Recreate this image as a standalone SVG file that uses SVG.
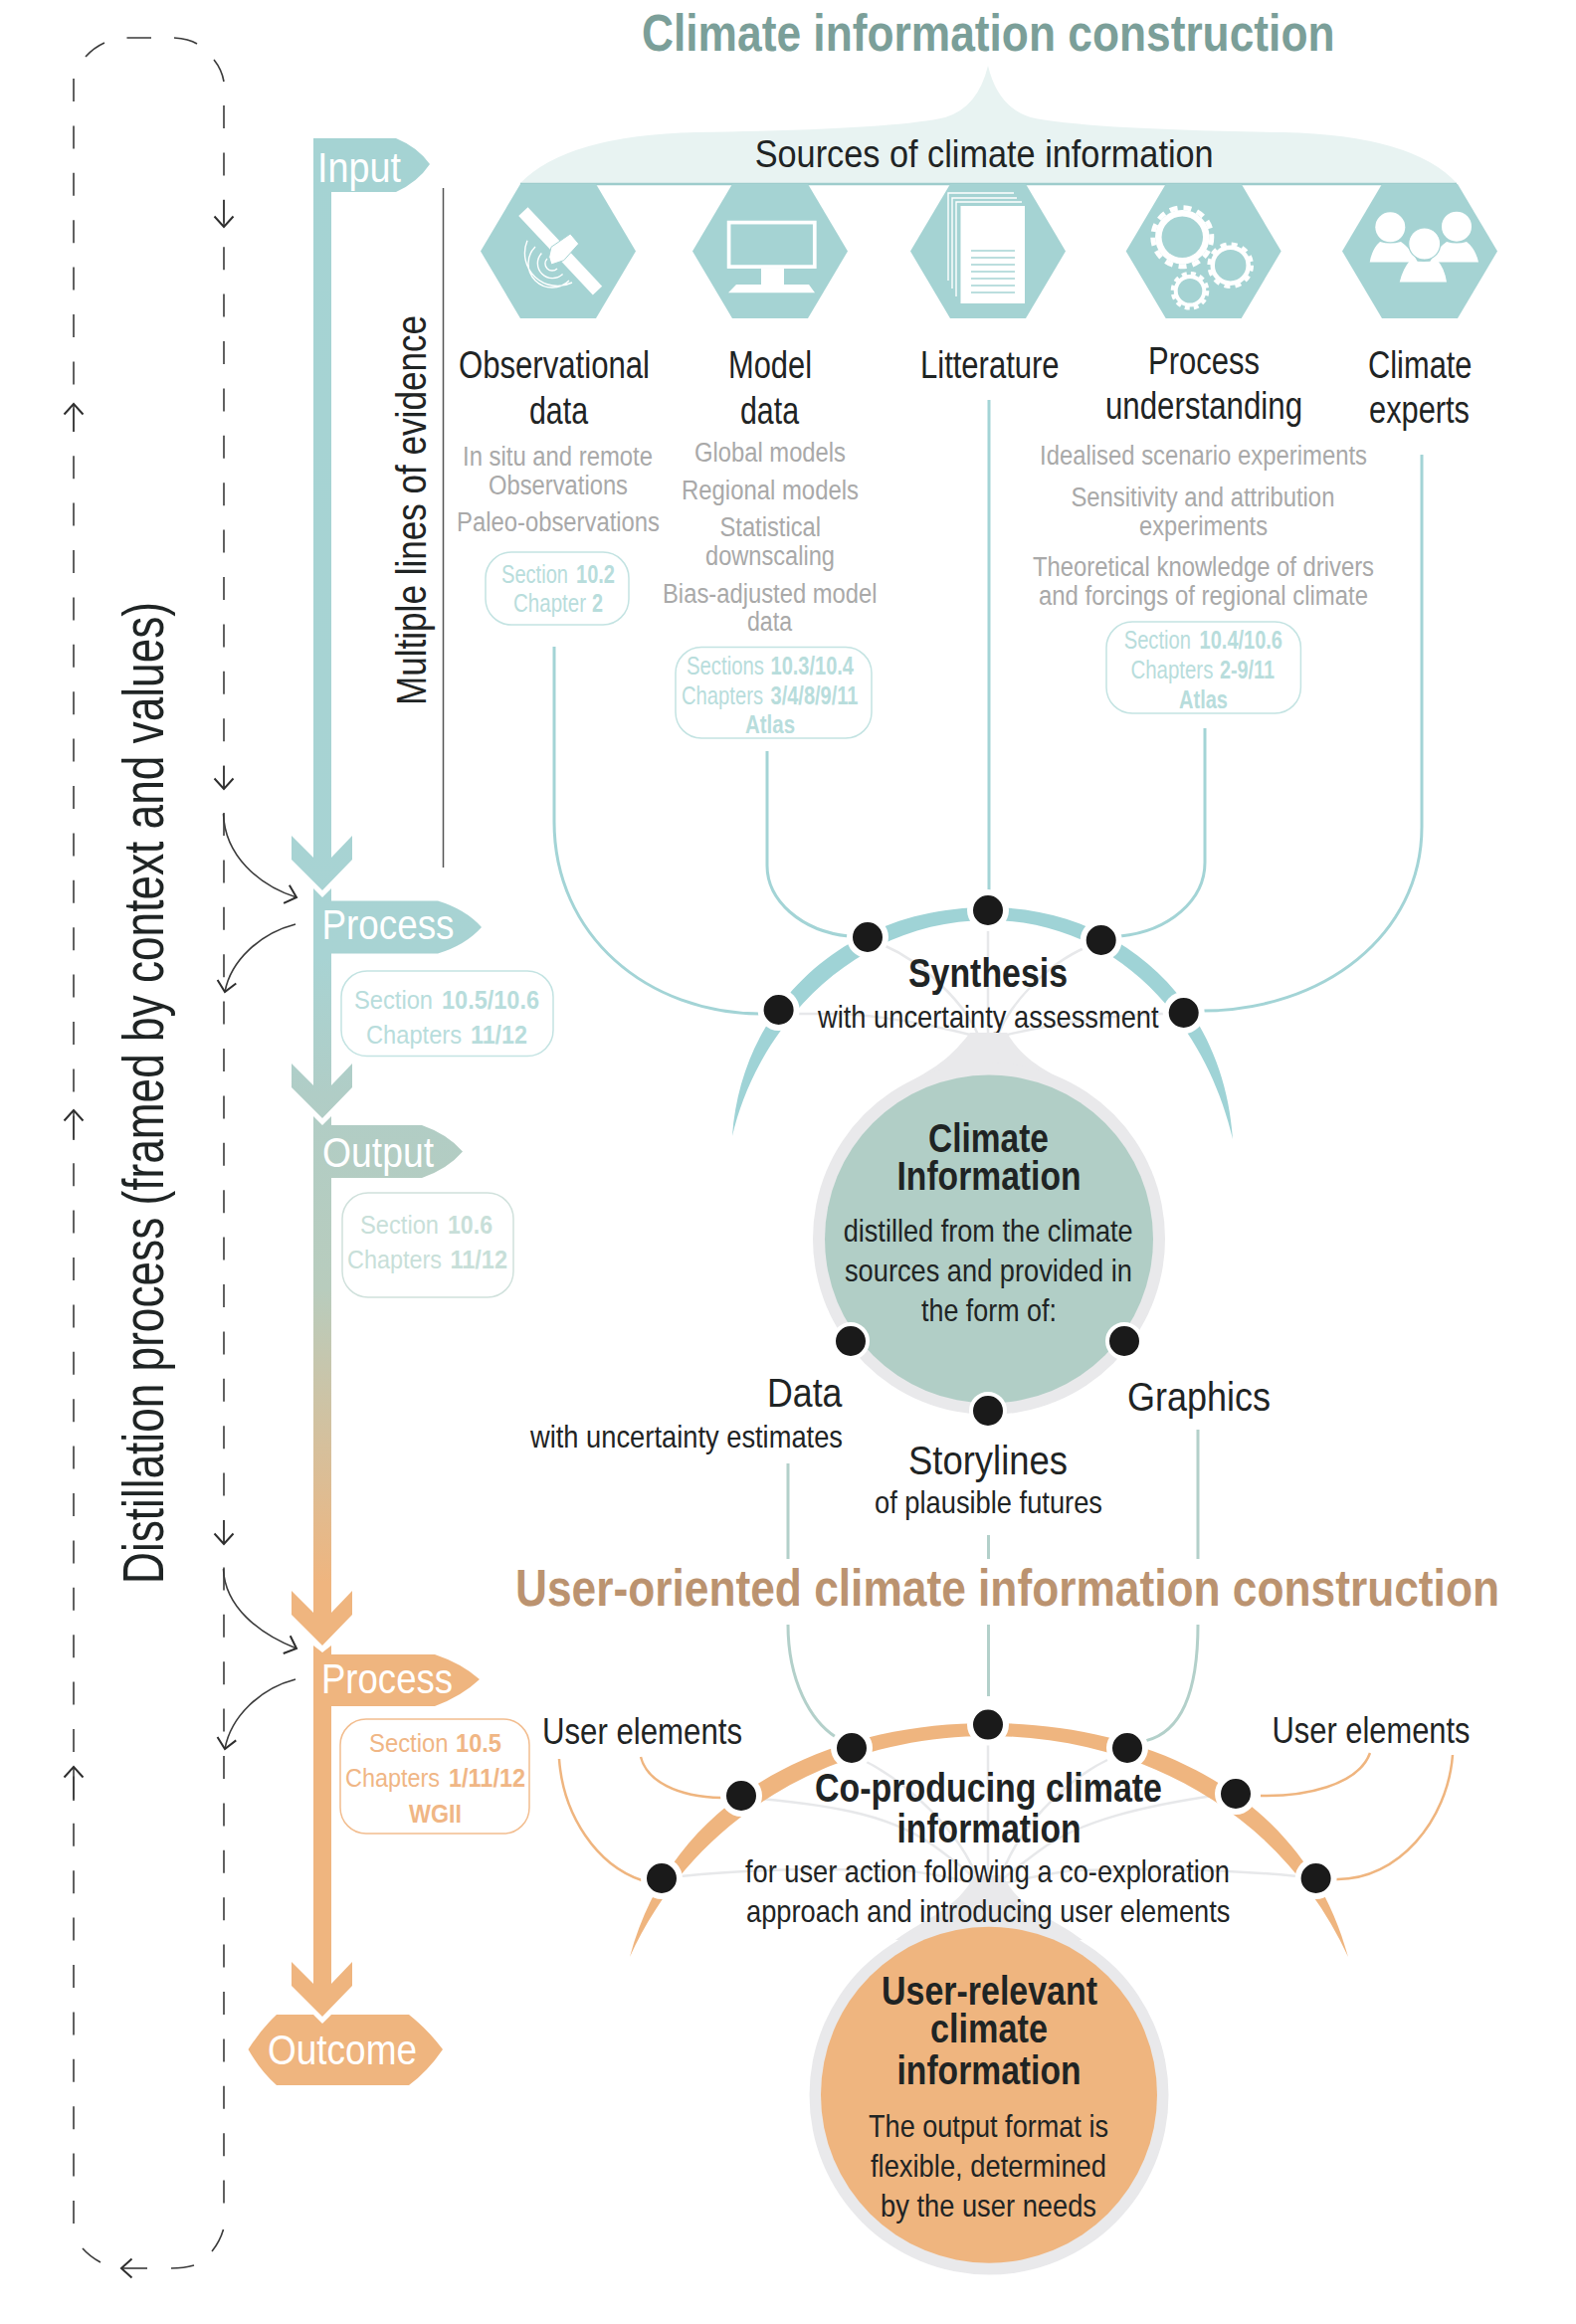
<svg xmlns="http://www.w3.org/2000/svg" width="1584" height="2336" viewBox="0 0 1584 2336">
<style>
text{font-family:"Liberation Sans",Arial,sans-serif;fill:#1f2424}
.b{font-weight:700}
.t1{font-size:52px;font-weight:700;fill:#7b9f99}
.t2{font-size:52px;font-weight:700;fill:#bb9370}
.l{font-size:38px}
.m{font-size:32px}
.g{font-size:27px;fill:#a9a9a9}
.f{font-size:43px;fill:#fff}
.h{font-size:40px;font-weight:700}
.s{font-size:26px}
.c1 text,.c1 tspan{fill:#b8dddc}
.c2 text,.c2 tspan{fill:#c8dfd9}
.c3 text,.c3 tspan{fill:#f0b685}
.box{fill:#fff;stroke-width:1.5}
.teal{fill:none;stroke:#a3d4d6;stroke-width:3}
.sage{fill:none;stroke:#b3d0ca;stroke-width:3}
.or{fill:none;stroke:#efb57f;stroke-width:2.5}
.pale{fill:none;stroke:#e7e8ea;stroke-width:2.5}
.dash{fill:none;stroke:#3a3a3a;stroke-width:1.6}
.dot{fill:#1a1a1a;stroke:#fff;stroke-width:4}
.hex{fill:#a5d3d3}
.w{fill:#fff}
.wl{fill:none;stroke:#fff}
</style>
<defs>
<linearGradient id="stem" gradientUnits="userSpaceOnUse" x1="0" y1="139" x2="0" y2="2100">
<stop offset="0" stop-color="#a5d3d3"/>
<stop offset="0.42" stop-color="#a8d3d3"/>
<stop offset="0.49" stop-color="#b0cdc6"/>
<stop offset="0.59" stop-color="#b8ccbd"/>
<stop offset="0.74" stop-color="#efb57f"/>
<stop offset="1" stop-color="#efb57f"/>
</linearGradient>
<marker id="v" markerUnits="userSpaceOnUse" viewBox="-14 -11 16 22" refX="0" refY="0" markerWidth="16" markerHeight="22" orient="auto">
<path d="M-10.5,-9.5 L0,0 L-10.5,9.5" fill="none" stroke="#2e2e2e" stroke-width="2"/>
</marker>
<polygon id="hx" points="-78,0 -38,-67.5 38,-67.5 78,0 38,67.5 -38,67.5"/>
</defs>

<g id="distillation-loop">
<path class="dash" d="M74,79 V2238" stroke-dasharray="23 24.4"/>
<path class="dash" d="M225,106 V2219" stroke-dasharray="23 24.4"/>
<path class="dash" d="M86,57 Q94,48 105,43 M127.5,38 H152 M175,38 Q190,39 198,44 M215,60 Q223,70 225,82"/>
<path class="dash" d="M83,2260 Q90,2268 101,2274 M172,2280 Q185,2280 195,2277 M213,2263 Q221,2253 224.5,2241"/>
<path class="dash" d="M148,2280 H122" marker-end="url(#v)"/>
<path class="dash" d="M74,434 V406" marker-end="url(#v)"/>
<path class="dash" d="M74,1146 V1116" marker-end="url(#v)"/>
<path class="dash" d="M74,1810 V1776" marker-end="url(#v)"/>
<path class="dash" d="M225,201 V228" marker-end="url(#v)"/>
<path class="dash" d="M225,770 V793" marker-end="url(#v)"/>
<path class="dash" d="M225,1528 V1552" marker-end="url(#v)"/>
<path class="dash" d="M224.5,818 C226,860 260,890 298,902" marker-end="url(#v)"/>
<path class="dash" d="M297,929 C262,938 232,965 226,997" marker-end="url(#v)"/>
<path class="dash" d="M224.5,1577 C226,1615 260,1642 298,1657" marker-end="url(#v)"/>
<path class="dash" d="M297,1688 C262,1697 232,1725 226,1758" marker-end="url(#v)"/>
</g>
<text id="distillation-label" transform="rotate(-90 164 1592)" x="164" y="1592" font-size="57" textLength="987" lengthAdjust="spacingAndGlyphs">Distillation process (framed by context and values)</text>

<g id="stem-flow" fill="url(#stem)">
<path d="M315,139 H398 Q420,148 432,165 Q420,183 398,193 H333 V862 H315 Z"/>
<polygon points="293,840 315,862 333,862 354,840 354,864 324,895 293,864"/>
<path d="M315,893 L324,902 L333,893 V905.5 H440 Q468,914 484,932 Q468,950 440,958.5 H333 V1092 H315 Z"/>
<polygon points="293,1069 315,1091 333,1091 354,1069 354,1093 324,1124 293,1093"/>
<path d="M315,1122 L324,1131 L333,1122 V1131 H424 Q450,1140 465,1157.5 Q450,1175 424,1184 H333 V1622 H315 Z"/>
<polygon points="293,1599 315,1621 333,1621 354,1599 354,1623 324,1654 293,1623"/>
<path d="M315,1654 L324,1661 L333,1654 V1663 H437 Q464,1672 482,1688 Q464,1705 437,1715 H333 V1994 H315 Z"/>
<polygon points="293,1972 315,1994 333,1994 354,1972 354,1996 324,2027 293,1996"/>
<path d="M278,2025 H315 L324,2034 L333,2025 H411 Q430,2040 445,2060 Q430,2082 411,2096 H278 Q262,2082 249.5,2060 Q262,2040 278,2025 Z"/>
</g>
<text class="f" x="319" y="183" textLength="84" lengthAdjust="spacingAndGlyphs">Input</text>
<text class="f" x="323.5" y="944" textLength="133" lengthAdjust="spacingAndGlyphs">Process</text>
<text class="f" x="324" y="1173" textLength="112" lengthAdjust="spacingAndGlyphs">Output</text>
<text class="f" x="323" y="1702" textLength="132" lengthAdjust="spacingAndGlyphs">Process</text>
<text class="f" x="269" y="2075" textLength="150" lengthAdjust="spacingAndGlyphs">Outcome</text>

<path d="M445.5,189 V872" fill="none" stroke="#555" stroke-width="1.5"/>
<text id="evidence-label" transform="rotate(-90 427.5 709)" x="427.5" y="709" font-size="42" textLength="392" lengthAdjust="spacingAndGlyphs">Multiple lines of evidence</text>

<text class="t1" x="645" y="51" textLength="696.5" lengthAdjust="spacingAndGlyphs">Climate information construction</text>
<g id="sources-header">
<path d="M523,184 Q570,136 700,133 Q900,130 950,118 Q983,108 993,66 Q1003,108 1036,118 Q1090,130 1290,133 Q1420,136 1464,184 Z" fill="#e8f3f2"/>
<path d="M523,185 H1464" stroke="#9dcccc" stroke-width="2.5"/>
<text x="758.7" y="168" font-size="39" textLength="461" lengthAdjust="spacingAndGlyphs">Sources of climate information</text>
</g>

<g id="connectors">
<path class="teal" d="M557,650 V826 C557,940 650,1019 766,1019"/>
<path class="teal" d="M771,755 V870 C771,905 805,936 853,941"/>
<path class="teal" d="M994,402 V898"/>
<path class="teal" d="M1211,732 V867 C1211,905 1175,936 1126,941"/>
<path class="teal" d="M1429,457 V831 C1429,940 1330,1016 1208,1016"/>
<path class="pale" d="M800,1019 H846 C900,1022 955,1035 975,1040 M888,950 C930,968 970,1010 983,1040 M993,930 V1040 M1092,952 C1050,970 1015,1010 1003,1040 M1172,1019 H1160 C1090,1022 1035,1035 1012,1040"/>
<path class="sage" d="M792,1471 V1567 M993.5,1543 V1567 M1204,1437 V1567"/>
<path class="sage" d="M792,1633 C792,1690 815,1730 840,1746 M993.5,1633 V1705 M1204,1633 C1204,1695 1190,1740 1152,1749.6"/>
<path class="or" d="M562,1768 C566,1825 600,1875 645,1890 M644,1766 C650,1790 680,1806 725,1807 M1377,1762 C1365,1795 1310,1806 1267,1805 M1460,1764 C1455,1830 1405,1890 1343,1889"/>
<path class="pale" d="M684,1886 C800,1875 860,1880 910,1880 C945,1885 970,1890 985,1895 M764,1808 C840,1815 900,1825 945,1860 C965,1875 978,1885 985,1895 M867,1769 C910,1790 965,1840 983,1890 M993,1750 V1895 M1113,1769 C1070,1790 1020,1840 1005,1890 M1226,1804 C1150,1815 1085,1830 1045,1860 C1025,1875 1010,1885 1003,1895 M1304,1886 C1190,1875 1120,1880 1078,1880 C1045,1885 1020,1890 1003,1895"/>
</g>

<g id="hex-observational">
<use href="#hx" class="hex" x="561" y="252.5"/>
<g transform="translate(563.2,252.3) rotate(46.8)">
<rect x="-54.5" y="-6.4" width="109" height="12.8" class="w"/>
</g>
<path class="w" stroke="#a5d3d3" stroke-width="1" d="M554,248.3 L573.3,235 L581.7,245 L566.7,261.7 L554,266 L551.7,258.3 Z"/>
<path class="wl" stroke-width="1.4" d="M550,260 A7,7 0 0 0 560,270 M544.4,254.4 A15,15 0 0 0 565.6,275.6 M538,248 A24,24 0 0 0 572,282 M530,241.7 A33,33 0 0 0 575,284"/>
</g>
<g id="hex-model">
<use href="#hx" class="hex" x="774" y="252.5"/>
<rect x="732.6" y="223.6" width="86.2" height="44.5" class="wl" stroke-width="3.7"/>
<path class="w" d="M765,270 H788 V286 H813 L819,294.3 H732 L740,286 H765 Z"/>
</g>
<g id="hex-literature">
<use href="#hx" class="hex" x="993" y="252.5"/>
<path class="wl" stroke-width="1.4" d="M953,282 V194 H1019 M957,290 V199 H1022 M961,298 V203 H1027"/>
<rect x="965.5" y="207" width="64.5" height="98" class="w"/>
<path d="M976,252 H1020 M976,259 H1020 M976,266 H1020 M976,273 H1020 M976,280 H1020 M976,287 H1020 M976,294 H1020" stroke="#a5d3d3" stroke-width="1.4"/>
</g>
<g id="hex-process">
<use href="#hx" class="hex" x="1209.7" y="252.5"/>
<circle cx="1188.3" cy="238.3" r="24" class="wl" stroke-width="6.5"/>
<circle cx="1188.3" cy="238.3" r="29.5" class="wl" stroke-width="5" stroke-dasharray="8 6"/>
<circle cx="1236.7" cy="266.7" r="18" class="wl" stroke-width="4.5"/>
<circle cx="1236.7" cy="266.7" r="21.5" class="wl" stroke-width="3.6" stroke-dasharray="6 5.3"/>
<circle cx="1196" cy="292.3" r="14.3" class="wl" stroke-width="4"/>
<circle cx="1196" cy="292.3" r="17.5" class="wl" stroke-width="3.6" stroke-dasharray="5 4.2"/>
</g>
<g id="hex-experts">
<use href="#hx" class="hex" x="1427" y="252.5"/>
<circle cx="1397.3" cy="228.3" r="15" class="w"/>
<circle cx="1464" cy="227.7" r="15" class="w"/>
<path class="w" d="M1376.7,263.5 Q1379,250 1387,243 Q1397,246 1408,243 Q1418,250 1425,263.5 Z"/>
<path class="w" d="M1437,263.5 Q1444,250 1454,243 Q1464,246 1474,243 Q1483,250 1486,263.5 Z"/>
<path class="w" d="M1406.7,283.5 Q1410,270 1417,262 Q1431,264 1445,262 Q1452,270 1454,283.5 Z"/>
<circle cx="1431.7" cy="245" r="16" class="w" stroke="#a5d3d3" stroke-width="1.2"/>
</g>

<g id="label-observational">
<text class="l" x="461" y="380" textLength="192" lengthAdjust="spacingAndGlyphs">Observational</text>
<text class="l" x="532" y="426" textLength="59" lengthAdjust="spacingAndGlyphs">data</text>
<text class="g" x="465" y="468" textLength="191" lengthAdjust="spacingAndGlyphs">In situ and remote</text>
<text class="g" x="491" y="497" textLength="140" lengthAdjust="spacingAndGlyphs">Observations</text>
<text class="g" x="459" y="534" textLength="204" lengthAdjust="spacingAndGlyphs">Paleo-observations</text>
</g>
<g id="label-model">
<text class="l" x="732" y="380" textLength="84" lengthAdjust="spacingAndGlyphs">Model</text>
<text class="l" x="744" y="426" textLength="59" lengthAdjust="spacingAndGlyphs">data</text>
<text class="g" x="698" y="464" textLength="152" lengthAdjust="spacingAndGlyphs">Global models</text>
<text class="g" x="685" y="501.5" textLength="178" lengthAdjust="spacingAndGlyphs">Regional models</text>
<text class="g" x="723.5" y="539" textLength="101.5" lengthAdjust="spacingAndGlyphs">Statistical</text>
<text class="g" x="709" y="568" textLength="130" lengthAdjust="spacingAndGlyphs">downscaling</text>
<text class="g" x="666" y="605.6" textLength="215.5" lengthAdjust="spacingAndGlyphs">Bias-adjusted model</text>
<text class="g" x="751" y="634" textLength="45" lengthAdjust="spacingAndGlyphs">data</text>
</g>
<text id="label-literature" class="l" x="925" y="380" textLength="139.6" lengthAdjust="spacingAndGlyphs">Litterature</text>
<g id="label-process">
<text class="l" x="1154" y="376" textLength="112" lengthAdjust="spacingAndGlyphs">Process</text>
<text class="l" x="1111" y="421" textLength="198" lengthAdjust="spacingAndGlyphs">understanding</text>
<text class="g" x="1045" y="467" textLength="329" lengthAdjust="spacingAndGlyphs">Idealised scenario experiments</text>
<text class="g" x="1076.4" y="508.7" textLength="265" lengthAdjust="spacingAndGlyphs">Sensitivity and attribution</text>
<text class="g" x="1145" y="538" textLength="129" lengthAdjust="spacingAndGlyphs">experiments</text>
<text class="g" x="1038" y="579" textLength="343" lengthAdjust="spacingAndGlyphs">Theoretical knowledge of drivers</text>
<text class="g" x="1044" y="608" textLength="331" lengthAdjust="spacingAndGlyphs">and forcings of regional climate</text>
</g>
<g id="label-experts">
<text class="l" x="1375" y="380" textLength="104.5" lengthAdjust="spacingAndGlyphs">Climate</text>
<text class="l" x="1376" y="425" textLength="101" lengthAdjust="spacingAndGlyphs">experts</text>
</g>

<g id="ref-obs" class="c1">
<rect class="box" x="488" y="555" width="144" height="73" rx="26" stroke="#c3e3e2"/>
<text class="s" y="586"><tspan x="504" textLength="67" lengthAdjust="spacingAndGlyphs">Section</tspan> <tspan class="b" x="579" textLength="39" lengthAdjust="spacingAndGlyphs">10.2</tspan></text>
<text class="s" y="615"><tspan x="516" textLength="73" lengthAdjust="spacingAndGlyphs">Chapter</tspan> <tspan class="b" x="595" textLength="11" lengthAdjust="spacingAndGlyphs">2</tspan></text>
</g>
<g id="ref-model" class="c1">
<rect class="box" x="679" y="650.5" width="197" height="91.5" rx="26" stroke="#c3e3e2"/>
<text class="s" y="677.5"><tspan x="690" textLength="78" lengthAdjust="spacingAndGlyphs">Sections</tspan> <tspan class="b" x="774.5" textLength="83.5" lengthAdjust="spacingAndGlyphs">10.3/10.4</tspan></text>
<text class="s" y="707.6"><tspan x="685" textLength="82" lengthAdjust="spacingAndGlyphs">Chapters</tspan> <tspan class="b" x="774.5" textLength="88" lengthAdjust="spacingAndGlyphs">3/4/8/9/11</tspan></text>
<text class="s b" x="749" y="737" textLength="50" lengthAdjust="spacingAndGlyphs">Atlas</text>
</g>
<g id="ref-process" class="c1">
<rect class="box" x="1112" y="625" width="195.4" height="92" rx="26" stroke="#c3e3e2"/>
<text class="s" y="651.5"><tspan x="1129.7" textLength="67.3" lengthAdjust="spacingAndGlyphs">Section</tspan> <tspan class="b" x="1205.6" textLength="83.4" lengthAdjust="spacingAndGlyphs">10.4/10.6</tspan></text>
<text class="s" y="682"><tspan x="1136.4" textLength="83" lengthAdjust="spacingAndGlyphs">Chapters</tspan> <tspan class="b" x="1226" textLength="55" lengthAdjust="spacingAndGlyphs">2-9/11</tspan></text>
<text class="s b" x="1185" y="712" textLength="49" lengthAdjust="spacingAndGlyphs">Atlas</text>
</g>
<g id="ref-process1" class="c1">
<rect class="box" x="343" y="976" width="213" height="85.6" rx="26" stroke="#c3e3e2"/>
<text class="s" y="1013.7"><tspan x="356" textLength="79" lengthAdjust="spacingAndGlyphs">Section</tspan> <tspan class="b" x="444" textLength="98" lengthAdjust="spacingAndGlyphs">10.5/10.6</tspan></text>
<text class="s" y="1049"><tspan x="368" textLength="96" lengthAdjust="spacingAndGlyphs">Chapters</tspan> <tspan class="b" x="473" textLength="57" lengthAdjust="spacingAndGlyphs">11/12</tspan></text>
</g>
<g id="ref-output" class="c2">
<rect class="box" x="344" y="1199" width="172" height="105" rx="26" stroke="#d0e1dc"/>
<text class="s" y="1240"><tspan x="362" textLength="79" lengthAdjust="spacingAndGlyphs">Section</tspan> <tspan class="b" x="450" textLength="45" lengthAdjust="spacingAndGlyphs">10.6</tspan></text>
<text class="s" y="1275"><tspan x="349" textLength="95" lengthAdjust="spacingAndGlyphs">Chapters</tspan> <tspan class="b" x="452.5" textLength="57.5" lengthAdjust="spacingAndGlyphs">11/12</tspan></text>
</g>
<g id="ref-process2" class="c3">
<rect class="box" x="342" y="1728" width="190" height="115" rx="26" stroke="#f2bd8f"/>
<text class="s" y="1761"><tspan x="371" textLength="79.5" lengthAdjust="spacingAndGlyphs">Section</tspan> <tspan class="b" x="458" textLength="46" lengthAdjust="spacingAndGlyphs">10.5</tspan></text>
<text class="s" y="1796"><tspan x="347" textLength="95" lengthAdjust="spacingAndGlyphs">Chapters</tspan> <tspan class="b" x="451" textLength="77" lengthAdjust="spacingAndGlyphs">1/11/12</tspan></text>
<text class="s b" x="411" y="1832" textLength="53" lengthAdjust="spacingAndGlyphs">WGII</text>
</g>

<g id="synthesis">
<path d="M736,1142 C745,1010 850,912 993,912 C1130,912 1230,1010 1239,1145 C1212,1030 1125,925 993,925 C860,925 762,1030 736,1142 Z" fill="#9fd3d6"/>
<circle cx="782.6" cy="1015" r="21" class="w"/><circle cx="872" cy="942" r="21" class="w"/><circle cx="993" cy="915" r="21" class="w"/><circle cx="1106.7" cy="945" r="21" class="w"/><circle cx="1189.7" cy="1018" r="21" class="w"/>
<circle cx="782.6" cy="1015" r="17" class="dot"/><circle cx="872" cy="942" r="17" class="dot"/><circle cx="993" cy="915" r="17" class="dot"/><circle cx="1106.7" cy="945" r="17" class="dot"/><circle cx="1189.7" cy="1018" r="17" class="dot"/>
<text class="h" x="913" y="992" textLength="160" lengthAdjust="spacingAndGlyphs">Synthesis</text>
<text class="m" x="822" y="1032.5" textLength="342.6" lengthAdjust="spacingAndGlyphs">with uncertainty assessment</text>
</g>
<g id="climate-information">
<path d="M900,1096 C935,1075 950,1070 975,1038 L1012,1038 C1030,1068 1050,1075 1088,1096 Z" fill="#e9e9eb"/>
<circle cx="994" cy="1245" r="177" fill="#e9e9eb"/>
<circle cx="994" cy="1245.5" r="165" fill="#b1cec6"/>
<text class="h" x="933" y="1157.5" textLength="121" lengthAdjust="spacingAndGlyphs">Climate</text>
<text class="h" x="901.5" y="1196" textLength="185" lengthAdjust="spacingAndGlyphs">Information</text>
<text class="m" x="847.7" y="1248" textLength="291" lengthAdjust="spacingAndGlyphs">distilled from the climate</text>
<text class="m" x="849" y="1287.6" textLength="289" lengthAdjust="spacingAndGlyphs">sources and provided in</text>
<text class="m" x="926" y="1327.5" textLength="136" lengthAdjust="spacingAndGlyphs">the form of:</text>
<circle cx="855" cy="1348" r="17" class="dot"/><circle cx="1130" cy="1348" r="17" class="dot"/><circle cx="993" cy="1418" r="17" class="dot"/>
</g>
<g id="output-forms">
<text x="771" y="1414" font-size="41" textLength="75.4" lengthAdjust="spacingAndGlyphs">Data</text>
<text class="m" x="533" y="1455" textLength="314" lengthAdjust="spacingAndGlyphs">with uncertainty estimates</text>
<text x="1133" y="1418" font-size="41" textLength="144" lengthAdjust="spacingAndGlyphs">Graphics</text>
<text x="913" y="1481.5" font-size="41" textLength="160" lengthAdjust="spacingAndGlyphs">Storylines</text>
<text class="m" x="879" y="1521" textLength="229" lengthAdjust="spacingAndGlyphs">of plausible futures</text>
</g>
<text class="t2" x="518" y="1613.6" textLength="989" lengthAdjust="spacingAndGlyphs">User-oriented climate information construction</text>

<g id="coproducing">
<path d="M633,1967 C678,1800 838,1732 993,1732 C1150,1732 1310,1800 1355,1967 C1290,1825 1150,1745 993,1745 C838,1745 698,1825 633,1967 Z" fill="#efb57f"/>
<circle cx="665" cy="1888" r="21" class="w"/><circle cx="745" cy="1805" r="21" class="w"/><circle cx="856" cy="1757" r="21" class="w"/><circle cx="993" cy="1733.6" r="21" class="w"/><circle cx="1133" cy="1757" r="21" class="w"/><circle cx="1242" cy="1803" r="21" class="w"/><circle cx="1322.6" cy="1888" r="21" class="w"/>
<circle cx="665" cy="1888" r="17" class="dot"/><circle cx="745" cy="1805" r="17" class="dot"/><circle cx="856" cy="1757" r="17" class="dot"/><circle cx="993" cy="1733.6" r="17" class="dot"/><circle cx="1133" cy="1757" r="17" class="dot"/><circle cx="1242" cy="1803" r="17" class="dot"/><circle cx="1322.6" cy="1888" r="17" class="dot"/>
<text class="h" x="819" y="1811" textLength="349" lengthAdjust="spacingAndGlyphs">Co-producing climate</text>
<text class="h" x="901.5" y="1852" textLength="185" lengthAdjust="spacingAndGlyphs">information</text>
</g>
<g id="user-relevant">
<path d="M900,1950 C935,1925 960,1920 980,1885 L1008,1885 C1025,1920 1055,1925 1088,1950 Z" fill="#e9e9eb"/>
<circle cx="994" cy="2106" r="180.5" fill="#e9e9eb"/>
<circle cx="994" cy="2105.7" r="169" fill="#efb57f"/>
<text class="m" x="749" y="1892" textLength="487" lengthAdjust="spacingAndGlyphs">for user action following a co-exploration</text>
<text class="m" x="750" y="1932" textLength="486.4" lengthAdjust="spacingAndGlyphs">approach and introducing user elements</text>
<text class="h" x="886" y="2014.7" textLength="217" lengthAdjust="spacingAndGlyphs">User-relevant</text>
<text class="h" x="935" y="2053" textLength="118" lengthAdjust="spacingAndGlyphs">climate</text>
<text class="h" x="901.5" y="2094.7" textLength="185" lengthAdjust="spacingAndGlyphs">information</text>
<text class="m" x="873" y="2148" textLength="241" lengthAdjust="spacingAndGlyphs">The output format is</text>
<text class="m" x="875" y="2188" textLength="237" lengthAdjust="spacingAndGlyphs">flexible, determined</text>
<text class="m" x="885" y="2228" textLength="217" lengthAdjust="spacingAndGlyphs">by the user needs</text>
</g>
<text id="user-elements-left" x="545" y="1753" font-size="37" textLength="201" lengthAdjust="spacingAndGlyphs">User elements</text>
<text id="user-elements-right" x="1278.5" y="1752" font-size="37" textLength="199" lengthAdjust="spacingAndGlyphs">User elements</text>
</svg>
